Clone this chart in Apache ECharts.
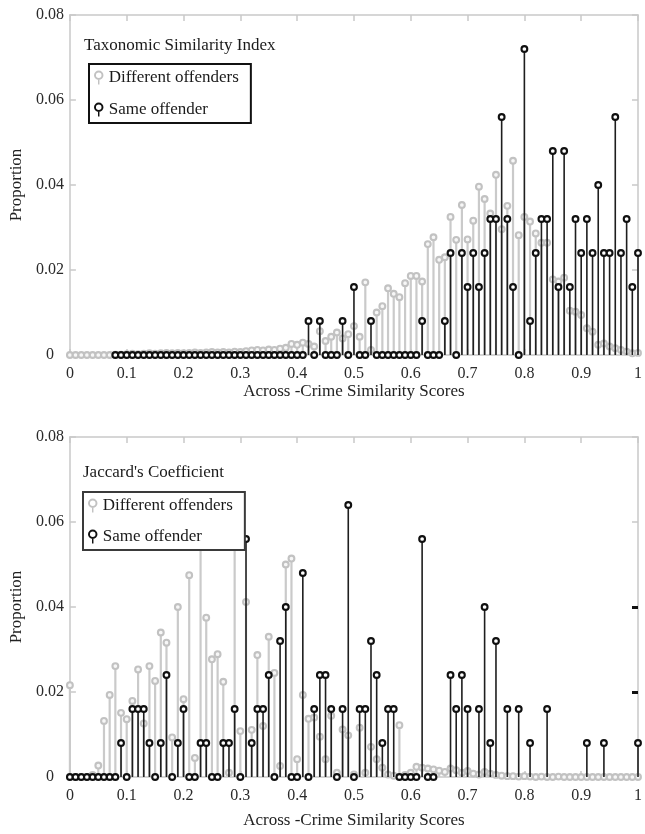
<!DOCTYPE html>
<html><head><meta charset="utf-8">
<script src="https://cdn.jsdelivr.net/npm/echarts@6/dist/echarts.min.js"></script>
<style>html,body{margin:0;padding:0;background:#fff}#c{width:645px;height:834px}</style>
</head><body><div id="c"></div>
<script>
// ---------- data ----------
const scoreBins = [0,0.01,0.02,0.03,0.04,0.05,0.06,0.07,0.08,0.09,
0.10,0.11,0.12,0.13,0.14,0.15,0.16,0.17,0.18,0.19,
0.20,0.21,0.22,0.23,0.24,0.25,0.26,0.27,0.28,0.29,
0.30,0.31,0.32,0.33,0.34,0.35,0.36,0.37,0.38,0.39,
0.40,0.41,0.42,0.43,0.44,0.45,0.46,0.47,0.48,0.49,
0.50,0.51,0.52,0.53,0.54,0.55,0.56,0.57,0.58,0.59,
0.60,0.61,0.62,0.63,0.64,0.65,0.66,0.67,0.68,0.69,
0.70,0.71,0.72,0.73,0.74,0.75,0.76,0.77,0.78,0.79,
0.80,0.81,0.82,0.83,0.84,0.85,0.86,0.87,0.88,0.89,
0.90,0.91,0.92,0.93,0.94,0.95,0.96,0.97,0.98,0.99,1.00];

const xTickLabels = ['0','0.1','0.2','0.3','0.4','0.5','0.6','0.7','0.8','0.9','1'];
const yTickLabels = ['0','0.02','0.04','0.06','0.08'];

// Taxonomic Similarity Index
const taxDifferent = [0,0,0,0,0,0,0,0,0.0001,0.0001,
0.0002,0.0003,0.0002,0.0003,0.0004,0.0003,0.0004,0.0005,0.0004,0.0005,
0.0004,0.0005,0.0006,0.0005,0.0006,0.0007,0.0006,0.0007,0.0006,0.0008,
0.0007,0.0009,0.0011,0.0012,0.0011,0.0013,0.0012,0.0015,0.0017,0.0026,
0.0024,0.0029,0.0026,0.0020,0.0056,0.0033,0.0043,0.0053,0.0039,0.0049,
0.0068,0.0043,0.0171,0.0012,0.0100,0.0115,0.0157,0.0144,0.0136,0.0169,
0.0186,0.0186,0.0173,0.0261,0.0277,0.0224,0.0230,0.0325,0.0271,0.0353,
0.0272,0.0316,0.0396,0.0367,0.0333,0.0424,0.0296,0.0351,0.0457,0.0282,
0.0325,0.0314,0.0286,0.0264,0.0264,0.0178,0.0173,0.0182,0.0104,0.0102,
0.0094,0.0063,0.0055,0.0024,0.0027,0.0020,0.0016,0.0012,0.0008,0.0004,0.0005];

const taxSame = [null,null,null,null,null,null,null,null,0,0,
0,0,0,0,0,0,0,0,0,0,
0,0,0,0,0,0,0,0,0,0,
0,0,0,0,0,0,0,0,0,0,
0,0,0.008,0,0.008,0,0,0,0.008,0,
0.016,0,0,0.008,0,0,0,0,0,0,
0,0,0.008,0,0,0,0.008,0.024,0,0.024,
0.016,0.024,0.016,0.024,0.032,0.032,0.056,0.032,0.016,0,
0.072,0.008,0.024,0.032,0.032,0.048,0.016,0.048,0.016,0.032,
0.024,0.032,0.024,0.040,0.024,0.024,0.056,0.024,0.032,0.016,0.024];

// Jaccard's Coefficient
const jacDifferent = [0.0216,0,0,0,0.0005,0.0027,0.0132,0.0193,0.0261,0.0151,
0.0136,0.0179,0.0253,0.0126,0.0261,0.0226,0.0340,0.0316,0.0093,0.0400,
0.0183,0.0475,0.0045,0.0565,0.0375,0.0277,0.0289,0.0224,0.0010,0.0615,
0.0108,0.0412,0.0111,0.0287,0.0120,0.0330,0.0245,0.0026,0.0500,0.0514,
0.0042,0.0193,0.0137,0.0140,0.0095,0.0042,0.0144,0.0010,0.0112,0.0098,
0.0006,0.0116,0.0010,0.0071,0.0042,0.0022,0.0006,0.0003,0.0122,0.0005,
0.0010,0.0024,0.0022,0.0020,0.0018,0.0015,0.0012,0.0020,0.0016,0.0010,
0.0014,0.0008,0.0006,0.0012,0.0008,0.0005,0.0003,0.0002,0.0002,0.0001,
0.0002,0.0001,0,0.0001,0,0,0.0001,0,0,0,
0,0,0,0,0,0,0,0,0,0,0];

const jacSame = [0,0,0,0,0,0,0,0,0,0.008,
0,0.016,0.016,0.016,0.008,0,0.008,0.024,0,0.008,
0.016,0,0,0.008,0.008,0,0,0.008,0.008,0.016,
0,0.056,0.008,0.016,0.016,0.024,0,0.032,0.040,0,
0,0.048,0,0.016,0.024,0.024,0.016,0,0.016,0.064,
0,0.016,0.016,0.032,0.024,0.008,0.016,0.016,0,0,
0,0,0.056,0,0,null,null,0.024,0.016,0.024,
0.016,null,0.016,0.040,0.008,0.032,null,0.016,null,0.016,
null,0.008,null,null,0.016,null,null,null,null,null,
null,0.008,null,null,0.008,null,null,null,null,null,0.008];

// ---------- styling ----------
const FONT = '"Liberation Serif", "DejaVu Serif", serif';
const GRAY = '#c2c2c2', GRAY_STEM = '#cacaca', BLACK = '#101010';
const AXIS = '#c9c9c9';
const ICON = 'path://M0.4,5 A4.6,4.6 0 1 1 9.6,5 A4.6,4.6 0 1 1 0.4,5 Z M2.3,5 A2.7,2.7 0 1 0 7.7,5 A2.7,2.7 0 1 0 2.3,5 Z M4.3,9.4 L5.7,9.4 L5.7,14 L4.3,14 Z';

function pairs(xs, ys) {
  const out = [];
  for (let i = 0; i < xs.length; i++) if (ys[i] !== null) out.push([xs[i], ys[i]]);
  return out;
}
function stem(color, stemColor, stemW, fill) {
  return function (params, api) {
    const x = api.value(0), y = api.value(1);
    const top = api.coord([x, y]);
    const base = api.coord([x, 0]);
    return {
      type: 'group',
      children: [
        { type: 'line', shape: { x1: base[0], y1: base[1], x2: top[0], y2: top[1] },
          style: { stroke: stemColor, lineWidth: stemW } },
        { type: 'circle', shape: { cx: top[0], cy: top[1], r: 2.9 },
          style: { fill: fill, stroke: color, lineWidth: 2.1 } }
      ]
    };
  };
}
const xFmt = v => xTickLabels[Math.round(v * 10)];
const yFmt = v => yTickLabels[Math.round(v / 0.02)];
const lineStyle = { color: AXIS, width: 1.5 };

function bottomX(gi, gap) {
  return { gridIndex: gi, type: 'value', min: 0, max: 1, interval: 0.1, position: 'bottom',
    name: 'Across -Crime Similarity Scores', nameLocation: 'middle', nameGap: gap,
    nameTextStyle: { fontFamily: FONT, fontSize: 17, color: '#222' },
    axisLine: { show: true, onZero: false, lineStyle: lineStyle },
    axisTick: { show: true, inside: true, length: 6, lineStyle: lineStyle },
    axisLabel: { formatter: xFmt, fontFamily: FONT, fontSize: 16, color: '#2a2a2a', margin: 11 },
    splitLine: { show: false } };
}
function topX(gi) {
  return { gridIndex: gi, type: 'value', min: 0, max: 1, interval: 0.1, position: 'top',
    axisLine: { show: true, onZero: false, lineStyle: lineStyle },
    axisTick: { show: true, inside: true, length: 6, lineStyle: lineStyle },
    axisLabel: { show: false }, splitLine: { show: false } };
}
function leftY(gi) {
  return { gridIndex: gi, type: 'value', min: 0, max: 0.08, interval: 0.02, position: 'left',
    name: 'Proportion', nameLocation: 'middle', nameRotate: 90, nameGap: 42,
    nameTextStyle: { fontFamily: FONT, fontSize: 17, color: '#222' },
    axisLine: { show: true, onZero: false, lineStyle: lineStyle },
    axisTick: { show: true, inside: true, length: 6, lineStyle: lineStyle },
    axisLabel: { formatter: yFmt, fontFamily: FONT, fontSize: 16, color: '#2a2a2a', align: 'center', margin: 20 },
    splitLine: { show: false } };
}
function rightY(gi, tickColor, tickW, custom) {
  const t = { show: true, inside: true, length: 6, lineStyle: { color: tickColor, width: tickW } };
  if (custom) t.customValues = custom;
  return { gridIndex: gi, type: 'value', min: 0, max: 0.08, interval: 0.02, position: 'right', offset: 0,
    axisLine: { show: !custom, onZero: false, lineStyle: lineStyle },
    axisTick: t, axisLabel: { show: false }, splitLine: { show: false } };
}
function legendFor(left, top, gap, border) {
  return { left: left, top: top, orient: 'vertical', selectedMode: false,
    itemWidth: 10, itemHeight: 14, itemGap: gap, padding: [5, 12, 5, 5],
    borderColor: border, borderWidth: 2, backgroundColor: '#fff',
    textStyle: { fontFamily: FONT, fontSize: 17, color: '#1a1a1a' },
    data: [
      { name: 'Different offenders', icon: ICON, itemStyle: { color: GRAY } },
      { name: 'Same offender', icon: ICON, itemStyle: { color: BLACK } }
    ] };
}

const chart = echarts.init(document.getElementById('c'), null, { renderer: 'canvas' });
chart.setOption({
  backgroundColor: '#fff',
  animation: false,
  title: [
    { text: 'Taxonomic Similarity Index', left: 84, top: 37, padding: 0,
      textStyle: { fontFamily: FONT, fontSize: 17, fontWeight: 'normal', color: '#1a1a1a' } },
    { text: "Jaccard's Coefficient", left: 83, top: 464, padding: 0,
      textStyle: { fontFamily: FONT, fontSize: 17, fontWeight: 'normal', color: '#1a1a1a' } }
  ],
  legend: [ legendFor(89, 64, 15, '#111'), legendFor(83, 492, 14, '#3a3a3a') ],
  grid: [
    { left: 67, top: 15, width: 574, height: 340 },
    { left: 67, top: 437, width: 574, height: 340 }
  ],
  xAxis: [ bottomX(0, 28), topX(0), bottomX(1, 35), topX(1) ],
  yAxis: [ leftY(0), rightY(0, AXIS, 1.5), leftY(1), rightY(1, AXIS, 1.5), rightY(1, '#111', 3, [0.02, 0.04]) ],
  series: [
    { type: 'custom', name: 'Different offenders', xAxisIndex: 0, yAxisIndex: 0, z: 2,
      renderItem: stem(GRAY, GRAY_STEM, 2.2, '#f7f7f7'), data: pairs(scoreBins, taxDifferent) },
    { type: 'custom', name: 'Same offender', xAxisIndex: 0, yAxisIndex: 0, z: 3,
      renderItem: stem(BLACK, '#1e1e1e', 1.6, '#fff'), data: pairs(scoreBins, taxSame) },
    { type: 'custom', name: 'Different offenders', xAxisIndex: 2, yAxisIndex: 2, z: 2,
      renderItem: stem(GRAY, GRAY_STEM, 2.2, '#f7f7f7'), data: pairs(scoreBins, jacDifferent) },
    { type: 'custom', name: 'Same offender', xAxisIndex: 2, yAxisIndex: 2, z: 3,
      renderItem: stem(BLACK, '#1e1e1e', 1.6, '#fff'), data: pairs(scoreBins, jacSame) }
  ]
});
</script></body></html>
